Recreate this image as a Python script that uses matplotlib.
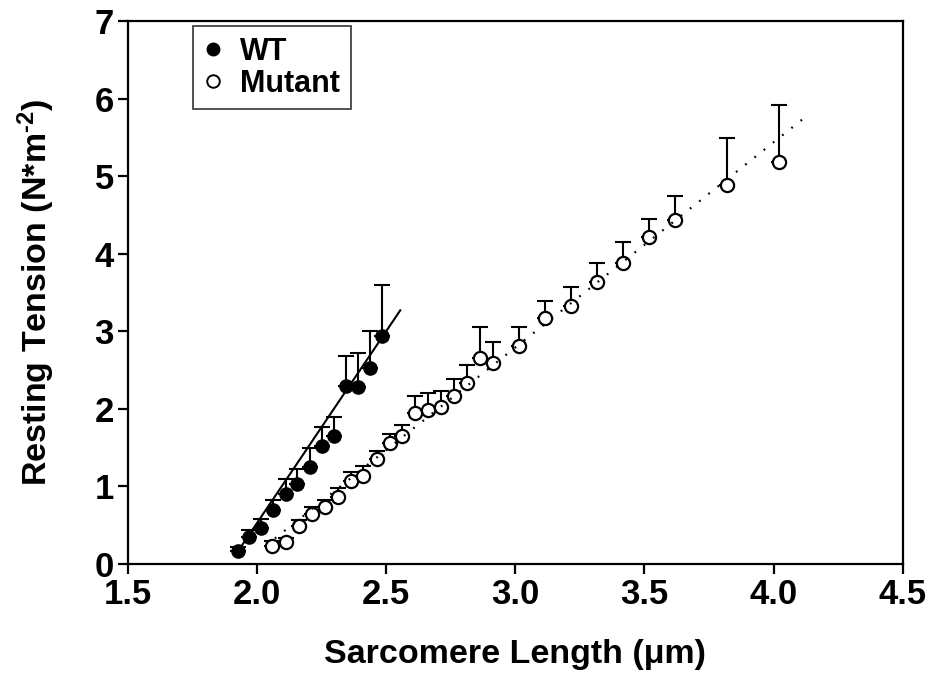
import numpy as np
import matplotlib
matplotlib.use("Agg")
import matplotlib.pyplot as plt
from matplotlib.lines import Line2D

plt.rcParams["font.family"] = ["Liberation Sans", "DejaVu Sans"]
plt.rcParams["font.weight"] = "bold"
plt.rcParams["mathtext.fontset"] = "custom"
plt.rcParams["mathtext.rm"] = "Liberation Sans:bold"
plt.rcParams["mathtext.it"] = "Liberation Sans:bold"
plt.rcParams["mathtext.bf"] = "Liberation Sans:bold"

# WT data (mean and upper SEM)
wt_x = [1.926, 1.970, 2.016, 2.064, 2.112, 2.157, 2.205, 2.252, 2.298, 2.344, 2.393, 2.439, 2.485]
wt_y = [0.17, 0.35, 0.47, 0.70, 0.90, 1.03, 1.25, 1.52, 1.65, 2.29, 2.28, 2.53, 2.94]
wt_err = [0.05, 0.09, 0.11, 0.13, 0.19, 0.19, 0.24, 0.25, 0.25, 0.39, 0.44, 0.48, 0.66]

# Mutant data
mut_x = [2.060, 2.112, 2.163, 2.212, 2.263, 2.313, 2.363, 2.412, 2.464, 2.514, 2.563, 2.613,
         2.664, 2.713, 2.764, 2.815, 2.865, 2.915, 3.016, 3.117, 3.216, 3.317, 3.419, 3.518,
         3.620, 3.820, 4.020]
mut_y = [0.23, 0.28, 0.49, 0.64, 0.74, 0.87, 1.07, 1.14, 1.35, 1.56, 1.65, 1.95,
         1.99, 2.02, 2.17, 2.33, 2.65, 2.59, 2.81, 3.17, 3.32, 3.63, 3.88, 4.21,
         4.43, 4.88, 5.18]
mut_err = [0.07, 0.06, 0.08, 0.10, 0.09, 0.11, 0.12, 0.12, 0.11, 0.12, 0.14, 0.22,
           0.21, 0.21, 0.21, 0.24, 0.41, 0.27, 0.24, 0.22, 0.25, 0.25, 0.27, 0.24,
           0.32, 0.61, 0.74]

# regression lines (end points)
wt_fit_x = [1.92, 2.555]
wt_fit_y = [0.13, 3.27]
mut_fit_x = [2.07, 4.13]
mut_fit_y = [0.33, 5.78]

fig = plt.figure(figsize=(9.34, 6.75), dpi=100)
ax = fig.add_axes([0.1367, 0.1644, 0.8298, 0.8045])

ax.errorbar(wt_x, wt_y, yerr=[np.zeros(len(wt_err)), wt_err], fmt="none",
            ecolor="black", elinewidth=1.5, capsize=6, capthick=1.5, zorder=2)
ax.errorbar(mut_x, mut_y, yerr=[np.zeros(len(mut_err)), mut_err], fmt="none",
            ecolor="black", elinewidth=1.5, capsize=6, capthick=1.5, zorder=2)

ax.plot(wt_x, wt_y, "o", color="black", markersize=9.5, zorder=3)
ax.plot(mut_x, mut_y, "o", markerfacecolor="white", markeredgecolor="black",
        markeredgewidth=1.6, markersize=9.5, zorder=3)

ax.plot(wt_fit_x, wt_fit_y, "-", color="black", linewidth=1.5, zorder=4)
ax.plot(mut_fit_x, mut_fit_y, color="black", linewidth=1.6,
        linestyle=(0, (0.8, 4.5)), zorder=4)

ax.set_xlim(1.5, 4.5)
ax.set_ylim(0, 7)
ax.set_xticks([1.5, 2.0, 2.5, 3.0, 3.5, 4.0, 4.5])
ax.set_xticklabels(["1.5", "2.0", "2.5", "3.0", "3.5", "4.0", "4.5"])
ax.set_yticks(range(0, 8))

for s in ax.spines.values():
    s.set_linewidth(1.6)
ax.tick_params(axis="both", direction="out", length=7, width=1.6,
               labelsize=25, pad=3)
for lab in ax.get_xticklabels() + ax.get_yticklabels():
    lab.set_fontweight("bold")

ax.set_xlabel("Sarcomere Length (\u03bcm)", fontsize=24.5, fontweight="bold", labelpad=20)
ax.set_ylabel(r"Resting Tension (N*m$^{\text{-2}}$)", fontsize=24.5, fontweight="bold",
              labelpad=27)

handles = [
    Line2D([], [], marker="o", linestyle="none", color="black", markersize=9),
    Line2D([], [], marker="o", linestyle="none", markerfacecolor="white",
           markeredgecolor="black", markeredgewidth=1.4, markersize=9),
]
leg = ax.legend(handles, ["WT", "Mutant"], loc="upper left",
                bbox_to_anchor=(0.084, 0.99), prop={"size": 22, "weight": "bold"},
                frameon=True, fancybox=False, handlelength=0.6, handletextpad=0.6,
                borderpad=0.35, labelspacing=0.05, borderaxespad=0)
leg.get_frame().set_edgecolor("black")
leg.get_frame().set_linewidth(1.2)

fig.savefig("out.png", dpi=100)
